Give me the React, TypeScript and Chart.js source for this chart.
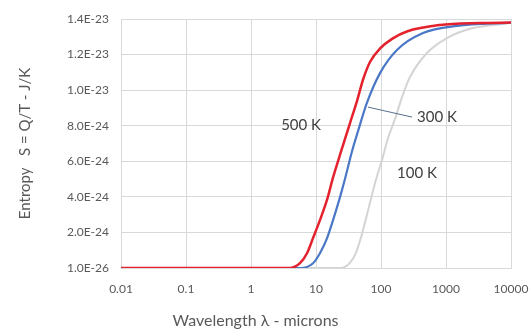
import React, { useEffect, useRef } from "react";
import { Chart, registerables } from "chart.js";

Chart.register(...registerables);

// Wavelength (microns) and entropy (J/K)
const wl500 = [0.01, 1, 3.9, 5.67, 7.27, 9.0, 11.5, 14.8, 18.3, 24.5, 33, 42.8, 53, 68, 97, 150, 250, 800, 3300, 10000];
const s500 = [1e-26, 1e-26, 1e-26, 2.8e-25, 8.4e-25, 1.69e-24, 2.7e-24, 3.85e-24, 5.1e-24, 6.6e-24, 8.1e-24, 9.4e-24, 1.06e-23, 1.16e-23, 1.235e-23, 1.29e-23, 1.33e-23, 1.366e-23, 1.377e-23, 1.38e-23];

const wl300 = [0.01, 1, 5.7, 9.0, 11.5, 14.8, 18.3, 22.8, 28.3, 36, 44.3, 60.9, 96.6, 176, 443, 1476, 10000];
const s300 = [1e-26, 1e-26, 1e-26, 2.8e-25, 8.4e-25, 1.69e-24, 2.7e-24, 3.85e-24, 5.1e-24, 6.6e-24, 7.7e-24, 9.3e-24, 1.096e-23, 1.226e-23, 1.321e-23, 1.361e-23, 1.38e-23];

const wl100 = [0.01, 1, 24, 33, 41, 49, 58, 69, 84, 104, 128, 165, 210, 279, 510, 1036, 2601, 10000];
const s100 = [1e-26, 1e-26, 1e-26, 2.8e-25, 8.4e-25, 1.7e-24, 2.7e-24, 3.8e-24, 5.0e-24, 6.1e-24, 7.3e-24, 8.4e-24, 9.6e-24, 1.074e-23, 1.209e-23, 1.293e-23, 1.349e-23, 1.377e-23];

const seriesNames = ["500 K", "300 K", "100 K"];
const seriesColors = ["#e4222e", "#4a78c6", "#d4d4d4"];

const xTicks = [0.01, 0.1, 1, 10, 100, 1000, 10000];
const xTickLabels = ["0.01", "0.1", "1", "10", "100", "1000", "10000"];
const yTicks = [1e-26, 2e-24, 4e-24, 6e-24, 8e-24, 1e-23, 1.2e-23, 1.4e-23];

// Series label annotations (data coordinates)
const labelX = [5.9, 358, 358];
const labelY = [8.04e-24, 8.49e-24, 5.34e-24];
const labelAlign = ["center", "left", "center"];
const leaderX = [63, 300];
const leaderY = [9.05e-24, 8.49e-24];

const FONT = "Lato, 'Open Sans', sans-serif";

const toPoints = (xs: number[], ys: number[]) => xs.map((x, i) => ({ x, y: ys[i] }));

const labelPlugin = {
  id: "seriesLabels",
  afterDatasetsDraw(chart: any) {
    const { ctx, scales } = chart;
    const x = scales.x;
    const y = scales.y;
    ctx.save();
    ctx.strokeStyle = "#5a6f8e";
    ctx.lineWidth = 1;
    ctx.beginPath();
    ctx.moveTo(x.getPixelForValue(leaderX[0]), y.getPixelForValue(leaderY[0]));
    ctx.lineTo(x.getPixelForValue(leaderX[1]), y.getPixelForValue(leaderY[1]));
    ctx.stroke();
    ctx.fillStyle = "#404040";
    ctx.font = `15px ${FONT}`;
    ctx.textBaseline = "middle";
    seriesNames.forEach((name, i) => {
      ctx.textAlign = labelAlign[i];
      ctx.fillText(name, x.getPixelForValue(labelX[i]), y.getPixelForValue(labelY[i]));
    });
    ctx.restore();
  },
};

export default function App() {
  const ref = useRef<HTMLCanvasElement>(null);
  useEffect(() => {
    if (!ref.current) return;
    const chart = new Chart(ref.current, {
      type: "line",
      data: {
        datasets: [
          { label: seriesNames[0], data: toPoints(wl500, s500), borderColor: seriesColors[0], borderWidth: 2.5 },
          { label: seriesNames[1], data: toPoints(wl300, s300), borderColor: seriesColors[1], borderWidth: 2.2 },
          { label: seriesNames[2], data: toPoints(wl100, s100), borderColor: seriesColors[2], borderWidth: 2 },
        ].map((d) => ({ ...d, pointRadius: 0, fill: false, cubicInterpolationMode: "monotone" as const })),
      },
      options: {
        animation: false,
        responsive: true,
        maintainAspectRatio: false,
        layout: { padding: { top: 19, right: 19, left: 0, bottom: 0 } },
        plugins: {
          legend: { display: false },
          tooltip: { enabled: false },
          title: {
            display: true,
            position: "bottom",
            text: "Wavelength λ - microns",
            color: "#595959",
            font: { family: FONT, size: 16, weight: "normal" },
            padding: { top: 6, bottom: 1 },
          },
        },
        scales: {
          x: {
            type: "logarithmic",
            min: 0.01,
            max: 10000,
            afterBuildTicks: (s: any) => {
              s.ticks = xTicks.map((v) => ({ value: v }));
            },
            afterFit: (s: any) => {
              s.height = 36.8;
              s.paddingLeft = 0;
              s.paddingRight = 0;
            },
            ticks: {
              autoSkip: false,
              maxRotation: 0,
              padding: 14,
              color: "#595959",
              font: { family: FONT, size: 12 },
              callback: (v: any) => {
                const i = xTicks.indexOf(Number(v));
                return i >= 0 ? xTickLabels[i] : "";
              },
            },
            grid: { color: "#d9d9d9", drawTicks: false },
            border: { color: "#d9d9d9" },
          },
          y: {
            type: "linear",
            min: 1e-26,
            max: 1.4e-23,
            afterBuildTicks: (s: any) => {
              s.ticks = yTicks.map((v) => ({ value: v }));
            },
            afterFit: (s: any) => {
              s.width = 121;
              s.paddingTop = 0;
              s.paddingBottom = 0;
            },
            ticks: {
              autoSkip: false,
              padding: 12,
              color: "#595959",
              font: { family: FONT, size: 12 },
              callback: (v: any) => Number(v).toExponential(1).toUpperCase(),
            },
            grid: { color: "#d9d9d9", drawTicks: false },
            border: { color: "#d9d9d9" },
            title: {
              display: true,
              text: "Entropy   S = Q/T - J/K",
              color: "#595959",
              font: { family: FONT, size: 15 },
              padding: { top: 16, bottom: 0 },
            },
          },
        },
      },
      plugins: [labelPlugin],
    });
    return () => chart.destroy();
  }, []);
  return (
    <div style={{ position: "fixed", left: 0, top: 0, width: 530, height: 331, background: "#fff" }}>
      <canvas ref={ref} />
    </div>
  );
}
